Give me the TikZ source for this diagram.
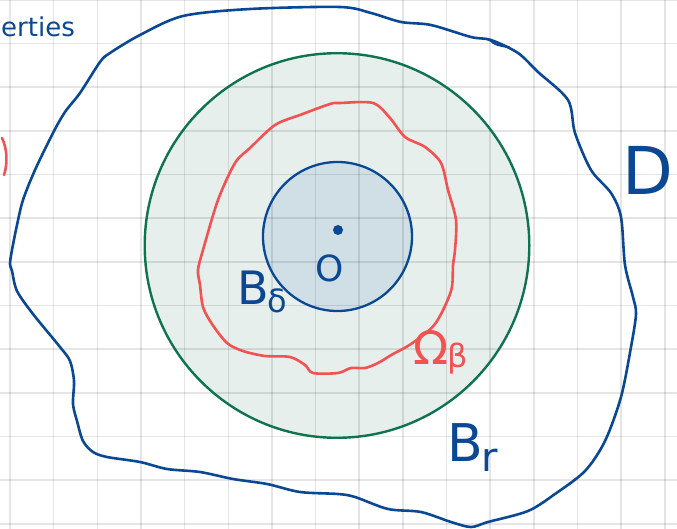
\documentclass[tikz,border=0pt]{standalone}
\usepackage{fontspec}
\newfontfamily\hand{DejaVu Sans}
\definecolor{ink}{HTML}{0A4894}
\definecolor{redink}{HTML}{F35252}
\definecolor{greenink}{HTML}{0F7350}
\definecolor{greenfill}{HTML}{E6EFEB}
\definecolor{bluefill}{HTML}{CFDFE5}
\tikzset{
  gridline/.style={black, opacity=0.1, line width=1.6pt},
  inkline/.style={ink, line width=2.6pt, line cap=round, line join=round},
  redline/.style={redink, line width=2.6pt, line cap=round, line join=round},
  lbl/.style={inner sep=0pt, font=\hand},
}
\begin{document}
\begin{tikzpicture}[x=1pt,y=-1pt]
\useasboundingbox (0,0) rectangle (677,529);
\fill[white] (0,0) rectangle (677,529);
% fills
\fill[greenfill] (337,245.5) circle (192.3);
\fill[bluefill] (337.5,236.5) circle (74.5);
% grid
\foreach \i in {0,...,15} \draw[gridline] ({10+43.66*\i},0) -- ({10+43.66*\i},529);
\foreach \j in {0,...,12} \draw[gridline] (0,{43.65*\j}) -- (677,{43.65*\j});
% circles
\node[circle, draw=greenink, line width=2.4pt, minimum size=384.6pt, inner sep=0pt] (Br) at (337,245.5) {};
\node[circle, draw=ink, line width=2.3pt, minimum size=149pt, inner sep=0pt] (Bd) at (337.5,236.5) {};
% outer domain D
\draw[inkline] plot[smooth cycle, tension=0.5] coordinates {
(10,264)(12,250)(17,225)(23,200)(35,170)(53,133)(65,112)(80,93)(100,62)(110,53)(140,35)(183,16)(250,9)(340,7)(371,13)(401,22)(431,25)(471,37)(491,40)(518,53)(538,72)(568,100)(575,133)(591,170)(611,193)(621,217)(625,265)(633,297)(636,314)(631,347)(621,397)(605,441)(585,471)(555,494)(528,511)(488,522)(471,527)(451,522)(421,512)(388,509)(355,497)(338,494)(300,492)(267,484)(233,479)(200,472)(167,469)(140,462)(107,457)(93,452)(83,441)(77,421)(73,404)(74,381)(70,361)(60,347)(33,314)(17,291)(12,271)};
\draw[inkline, line width=2pt] (487,39) .. controls (494,41) and (490,45) .. (509,47);
% red level set
\draw[redline] plot[smooth cycle, tension=0.5] coordinates {
(198,270)(200,285)(203,307)(212,324)(227,343)(243,351)(265,356)(290,357)(305,365)(313,373)(338,373)(351,368)(365,368)(378,363)(393,354)(411,344)(435,324)(451,291)(453,265)(455,250)(456,220)(448,190)(441,163)(425,147)(405,137)(390,118)(373,103)(340,103)(330,104)(300,115)(275,125)(250,148)(235,163)(218,200)(203,250)};
\draw[redline] (2,138) .. controls (7,148) and (8,163) .. (4,175);
% centre point
\fill[ink] (338,230) circle (5);
% labels
\node[lbl, text=ink, font=\hand\fontsize{36}{36}\selectfont] (O) at (330,268) {O};
\node[lbl, text=ink, font=\hand\fontsize{66}{66}\selectfont] (Dlab) at (648,170) {D};
\node[lbl, text=ink, anchor=base west, font=\hand\fontsize{46}{46}\selectfont] (Bdlab) at (237,305) {B\kern-1pt\raisebox{-8pt}{\fontsize{32}{32}\selectfont δ}};
\node[lbl, text=ink, anchor=base west, font=\hand\fontsize{52}{52}\selectfont] (Brlab) at (447,461) {B\kern-1pt\raisebox{-10pt}{\fontsize{40}{40}\selectfont r}};
\node[lbl, text=redink, anchor=base west, font=\hand\fontsize{46}{46}\selectfont] (Omlab) at (413,364) {Ω\kern-1pt\raisebox{-3pt}{\fontsize{32}{32}\selectfont β}};
\node[lbl, text=ink, anchor=base west, font=\hand\fontsize{26}{26}\selectfont] (top) at (1,37) {erties};
\end{tikzpicture}
\end{document}
